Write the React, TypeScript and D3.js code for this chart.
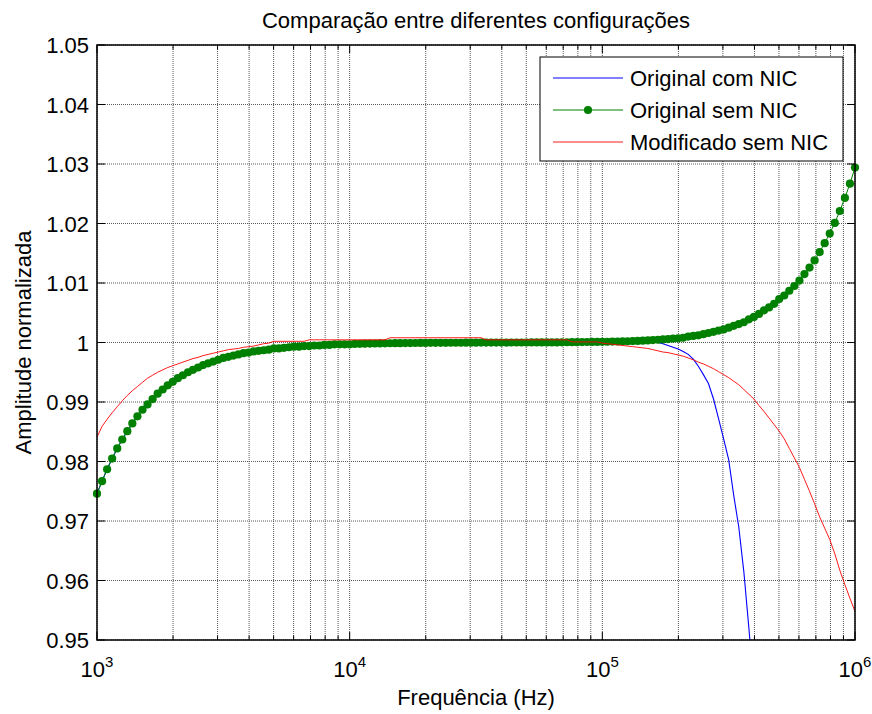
import React from 'react';
import * as d3 from 'd3';

const W = 872;
const H = 714;
const PLOT = { left: 97, right: 855, top: 45, bottom: 640 };
const FONT = '"Liberation Sans", Arial, Helvetica, sans-serif';

const TITLE = 'Comparação entre diferentes configurações';
const X_LABEL = 'Frequência (Hz)';
const Y_LABEL = 'Amplitude normalizada';

const X_DOMAIN = [1e3, 1e6];
const Y_DOMAIN = [0.95, 1.05];
const X_TICK_EXPONENTS = [3, 4, 5, 6];
const Y_TICKS = [0.95, 0.96, 0.97, 0.98, 0.99, 1.0, 1.01, 1.02, 1.03, 1.04, 1.05];
const Y_TICK_LABELS = ['0.95', '0.96', '0.97', '0.98', '0.99', '1', '1.01', '1.02', '1.03', '1.04', '1.05'];

const SERIES_NAMES = ['Original com NIC', 'Original sem NIC', 'Modificado sem NIC'];

// sampling grid: 151 log-spaced frequencies from 1 kHz to 1 MHz
const SAMPLE_COUNT = 151;
const frequencies = d3.range(SAMPLE_COUNT).map((i) => Math.pow(10, 3 + (3 * i) / (SAMPLE_COUNT - 1)));

// Original sem NIC (green, markers)
const originalSemNIC = [
  0.9746, 0.9767, 0.9787, 0.9805, 0.9822, 0.9837, 0.9851, 0.9864, 0.9876, 0.9887,
  0.9896, 0.9905, 0.9914, 0.9921, 0.9928, 0.9934, 0.9940, 0.9945, 0.9950, 0.9954,
  0.9958, 0.9962, 0.9965, 0.9968, 0.9971, 0.9974,
  0.9976, 0.9978, 0.9980, 0.9982, 0.9983, 0.9985, 0.9986, 0.9987, 0.9988, 0.9990,
  0.9990, 0.9991, 0.9992, 0.9993, 0.9993, 0.9994, 0.9994, 0.9995, 0.9995, 0.9996,
  0.9996, 0.9997, 0.9997, 0.9997, 0.9997,
  0.99976, 0.99978, 0.9998, 0.99982, 0.99983, 0.99985, 0.99986, 0.99987, 0.99988, 0.99989,
  0.9999, 0.99991, 0.99992, 0.99993, 0.99993, 0.99994, 0.99994, 0.99995, 0.99995, 0.99996,
  0.99996, 0.99996, 0.99997, 0.99997, 0.99997,
  0.99998, 0.99998, 0.99998, 0.99999, 0.99999, 0.99999, 1.0, 1.0, 1.0, 1.0,
  1.00001, 1.00001, 1.00001, 1.00001,
  1.00002, 1.00002, 1.00003, 1.00004, 1.00005, 1.00006, 1.00007, 1.00008, 1.00009, 1.0001,
  1.00011, 1.00013, 1.00015, 1.00017, 1.00019, 1.00021, 1.00024, 1.00027, 1.00031, 1.00035,
  1.0004, 1.00046, 1.00052, 1.00058, 1.00066, 1.0007, 1.0008, 1.001, 1.0011, 1.0012,
  1.0014, 1.0016, 1.0018, 1.002, 1.0022, 1.0025, 1.0028, 1.0031, 1.0034, 1.0039,
  1.0043, 1.0048, 1.0054, 1.0059, 1.0065, 1.0073, 1.0079, 1.0087, 1.0095, 1.0104,
  1.0115, 1.0126, 1.0138, 1.0152, 1.0167, 1.0183, 1.0201, 1.0221, 1.0243, 1.0267, 1.0294,
];

// Original com NIC (blue) – first 131 samples, leaves the axes below 0.95
const originalComNIC = [
  0.9746, 0.9767, 0.9787, 0.9805, 0.9822, 0.9837, 0.9851, 0.9864, 0.9876, 0.9887,
  0.9896, 0.9905, 0.9914, 0.9921, 0.9928, 0.9934, 0.9940, 0.9945, 0.9950, 0.9954,
  0.9958, 0.9962, 0.9965, 0.9968, 0.9971, 0.9974,
  0.9976, 0.9978, 0.9980, 0.9982, 0.9983, 0.9985, 0.9986, 0.9987, 0.9988, 0.9990,
  0.9990, 0.9991, 0.9992, 0.9993, 0.9993, 0.9994, 0.9994, 0.9995, 0.9995, 0.9996,
  0.9996, 0.9997, 0.9997, 0.9997, 0.9997,
  0.99976, 0.99978, 0.9998, 0.99982, 0.99983, 0.99985, 0.99986, 0.99987, 0.99988, 0.99989,
  0.9999, 0.99991, 0.99992, 0.99993, 0.99993, 0.99994, 0.99994, 0.99995, 0.99995, 0.99996,
  0.99996, 0.99996, 0.99997, 0.99997, 0.99997,
  0.99998, 0.99998, 0.99998, 0.99999, 0.99999, 0.99999, 1.0, 1.0, 1.0, 1.0,
  1.00001, 1.00001, 1.00001, 1.00001,
  1.00002, 1.00002, 1.00003, 1.00004, 1.00005, 1.00006, 1.00007, 1.00008, 1.00009, 1.0001,
  1.00011, 1.00013, 1.00015, 1.00017, 1.00019, 1.00021, 1.00024, 1.00027, 1.00031, 1.0003,
  1.0002, 1.0, 0.9998, 0.9995, 0.9992, 0.9989, 0.9985, 0.998, 0.9972, 0.996,
  0.9946, 0.9931, 0.9905, 0.9872, 0.9838, 0.9803, 0.9743, 0.969, 0.9615, 0.952,
  0.942,
];

// Modificado sem NIC (red)
const modificadoSemNIC = [
  0.9841, 0.9859, 0.9871, 0.9882, 0.9892, 0.9902, 0.9911, 0.9919, 0.9926, 0.9933,
  0.994, 0.9945, 0.995, 0.9954, 0.9958, 0.9961, 0.9964, 0.9967, 0.997, 0.9973,
  0.9975, 0.9978, 0.998, 0.9982, 0.9984, 0.9986, 0.9988, 0.9989, 0.999, 0.9992,
  0.9993, 0.9994, 0.9996, 0.9998, 0.9999, 1.0002, 1.0002, 1.0002, 1.0002, 1.0002,
  1.0002, 1.0002, 1.00045, 1.00045, 1.00045, 1.00045, 1.00045, 1.00045, 1.00045, 1.00045,
  1.00045, 1.00045, 1.00045, 1.00045, 1.00045, 1.00045, 1.00045, 1.00045, 1.0008, 1.0008,
  1.0008, 1.0008, 1.0008, 1.0008, 1.0008, 1.0008, 1.0008, 1.0008, 1.0008, 1.0008,
  1.0008, 1.0008, 1.0008, 1.0008, 1.0008, 1.0008, 1.0008, 1.00045, 1.00045, 1.00045,
  1.00045, 1.00045, 1.00045, 1.00045, 1.00045, 1.00045, 1.00045, 1.00045, 1.00045, 1.00045,
  1.00045, 1.00045, 1.00045, 1.00045, 1.0001, 1.0001, 1.0001, 1.0001, 1.0001, 1.0001,
  0.9999, 0.9998, 0.9997, 0.9996, 0.9995, 0.9994, 0.9993, 0.9992, 0.9991, 0.999,
  0.9988, 0.9986, 0.9984, 0.9983, 0.9981, 0.9979, 0.9977, 0.9974, 0.9971, 0.9967,
  0.9964, 0.996, 0.9956, 0.9951, 0.9946, 0.9941, 0.9935, 0.9929, 0.9921, 0.9913,
  0.9905, 0.9894, 0.9884, 0.9873, 0.9862, 0.9851, 0.9838, 0.9822, 0.9806, 0.979,
  0.977, 0.975, 0.9729, 0.9707, 0.9688, 0.9669, 0.9645, 0.9617, 0.9593, 0.957, 0.9548,
];

const COLORS = { blue: '#0000ff', green: '#008000', red: '#ff0000' };

export default function App() {
  const x = d3.scaleLog().domain(X_DOMAIN).range([PLOT.left, PLOT.right]);
  const y = d3.scaleLinear().domain(Y_DOMAIN).range([PLOT.bottom, PLOT.top]);

  const majorX = X_TICK_EXPONENTS.map((e) => Math.pow(10, e));
  const minorX: number[] = [];
  for (let e = X_TICK_EXPONENTS[0]; e < X_TICK_EXPONENTS[X_TICK_EXPONENTS.length - 1]; e++) {
    for (let m = 2; m <= 9; m++) minorX.push(m * Math.pow(10, e));
  }

  const line = d3
    .line<[number, number]>()
    .x((d) => x(d[0]))
    .y((d) => y(d[1]));

  const pts = (vals: number[]) => vals.map((v, i) => [frequencies[i], v] as [number, number]);
  const bluePts = pts(originalComNIC);
  const greenPts = pts(originalSemNIC);
  const redPts = pts(modificadoSemNIC);

  const gridStyle = { stroke: '#5a5a5a', strokeWidth: 1, strokeDasharray: '1,1' };
  const majLen = 8;
  const minLen = 4.5;
  const markerR = 4.1;

  const legendX = 540;
  const legendY = 57;
  const legendW = 303;
  const legendH = 104;
  const rowY = [78, 110, 142];

  return (
    <svg
      width={W}
      height={H}
      style={{ position: 'absolute', left: 0, top: 0, background: '#fff' }}
      fontFamily={FONT}
    >
      <rect x={0} y={0} width={W} height={H} fill="#fff" />
      <defs>
        <clipPath id="plotClip">
          <rect x={PLOT.left} y={PLOT.top} width={PLOT.right - PLOT.left} height={PLOT.bottom - PLOT.top} />
        </clipPath>
      </defs>

      {/* grid */}
      <g>
        {[...majorX, ...minorX].map((f, i) => (
          <line key={'gx' + i} x1={x(f)} x2={x(f)} y1={PLOT.top} y2={PLOT.bottom} style={gridStyle} />
        ))}
        {Y_TICKS.map((v, i) => (
          <line key={'gy' + i} x1={PLOT.left} x2={PLOT.right} y1={y(v)} y2={y(v)} style={gridStyle} />
        ))}
      </g>

      {/* data */}
      <g clipPath="url(#plotClip)">
        <path d={line(bluePts) || ''} fill="none" stroke={COLORS.blue} strokeWidth={1.1} />
        <path d={line(greenPts) || ''} fill="none" stroke={COLORS.green} strokeWidth={1} />
      </g>
      <g>
        {greenPts.map((d, i) => (
          <circle key={'m' + i} cx={x(d[0])} cy={y(d[1])} r={markerR} fill={COLORS.green} />
        ))}
      </g>
      <g clipPath="url(#plotClip)">
        <path d={line(redPts) || ''} fill="none" stroke={COLORS.red} strokeWidth={0.9} />
      </g>

      {/* axes box */}
      <rect
        x={PLOT.left}
        y={PLOT.top}
        width={PLOT.right - PLOT.left}
        height={PLOT.bottom - PLOT.top}
        fill="none"
        stroke="#000"
        strokeWidth={1.5}
      />

      {/* ticks */}
      <g stroke="#000" strokeWidth={1}>
        {majorX.map((f, i) => (
          <g key={'tx' + i}>
            <line x1={x(f)} x2={x(f)} y1={PLOT.bottom} y2={PLOT.bottom - majLen} />
            <line x1={x(f)} x2={x(f)} y1={PLOT.top} y2={PLOT.top + majLen} />
          </g>
        ))}
        {minorX.map((f, i) => (
          <g key={'tmx' + i}>
            <line x1={x(f)} x2={x(f)} y1={PLOT.bottom} y2={PLOT.bottom - minLen} />
            <line x1={x(f)} x2={x(f)} y1={PLOT.top} y2={PLOT.top + minLen} />
          </g>
        ))}
        {Y_TICKS.map((v, i) => (
          <g key={'ty' + i}>
            <line x1={PLOT.left} x2={PLOT.left + majLen} y1={y(v)} y2={y(v)} />
            <line x1={PLOT.right} x2={PLOT.right - majLen} y1={y(v)} y2={y(v)} />
          </g>
        ))}
      </g>

      {/* tick labels */}
      <g fontSize={22} fill="#000">
        {Y_TICKS.map((v, i) => (
          <text key={'ly' + i} x={PLOT.left - 8} y={y(v) + 8} textAnchor="end">
            {Y_TICK_LABELS[i]}
          </text>
        ))}
        {X_TICK_EXPONENTS.map((e, i) => (
          <text key={'lx' + i} x={x(Math.pow(10, e))} y={677} textAnchor="middle">
            10
            <tspan dy={-10} fontSize={15}>
              {String(e)}
            </tspan>
          </text>
        ))}
      </g>

      {/* titles */}
      <text x={(PLOT.left + PLOT.right) / 2} y={28} textAnchor="middle" fontSize={22}>
        {TITLE}
      </text>
      <text x={(PLOT.left + PLOT.right) / 2} y={705} textAnchor="middle" fontSize={22}>
        {X_LABEL}
      </text>
      <text
        transform={`translate(31, ${(PLOT.top + PLOT.bottom) / 2}) rotate(-90)`}
        textAnchor="middle"
        fontSize={22}
      >
        {Y_LABEL}
      </text>

      {/* legend */}
      <g>
        <rect x={legendX} y={legendY} width={legendW} height={legendH} fill="#fff" stroke="#000" strokeWidth={1} />
        <line x1={553} x2={623} y1={rowY[0]} y2={rowY[0]} stroke={COLORS.blue} strokeWidth={1.1} />
        <line x1={553} x2={623} y1={rowY[1]} y2={rowY[1]} stroke={COLORS.green} strokeWidth={1} />
        <circle cx={588} cy={rowY[1]} r={markerR} fill={COLORS.green} />
        <line x1={553} x2={623} y1={rowY[2]} y2={rowY[2]} stroke={COLORS.red} strokeWidth={0.9} />
        {SERIES_NAMES.map((name, i) => (
          <text key={'lg' + i} x={630} y={rowY[i] + 8} fontSize={22}>
            {name}
          </text>
        ))}
      </g>
    </svg>
  );
}
